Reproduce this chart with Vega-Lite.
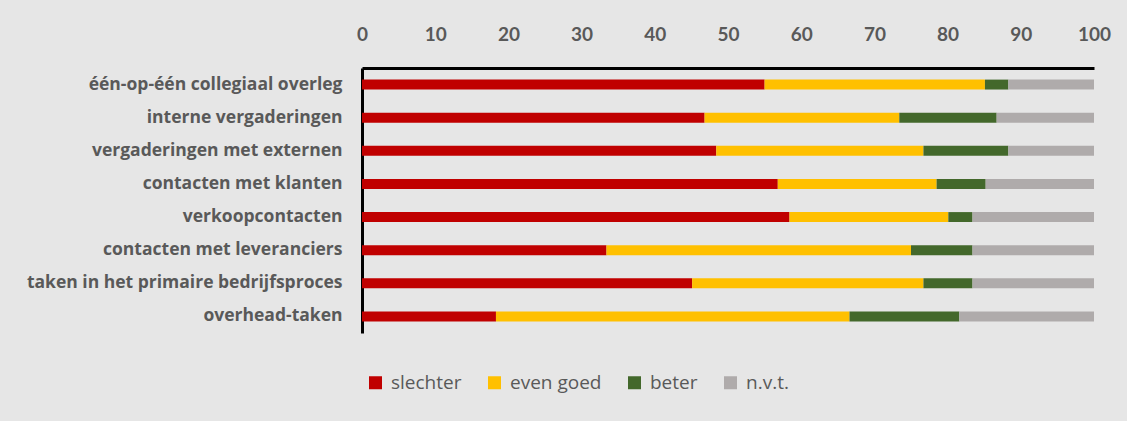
{
  "$schema": "https://vega.github.io/schema/vega-lite/v6.json",
  "width": 732,
  "height": 265,
  "autosize": {"type": "none"},
  "padding": {"left": 362, "top": 68, "right": 33, "bottom": 88},
  "background": "#E6E6E6",
  "config": {
    "view": {"stroke": null},
    "font": "Lato"
  },
  "data": {
    "values": [
      {"taak": "één-op-één collegiaal overleg", "cat": "slechter", "v": 55.0},
      {"taak": "één-op-één collegiaal overleg", "cat": "even goed", "v": 30.1},
      {"taak": "één-op-één collegiaal overleg", "cat": "beter", "v": 3.2},
      {"taak": "één-op-één collegiaal overleg", "cat": "n.v.t.", "v": 11.7},
      {"taak": "interne vergaderingen", "cat": "slechter", "v": 46.8},
      {"taak": "interne vergaderingen", "cat": "even goed", "v": 26.6},
      {"taak": "interne vergaderingen", "cat": "beter", "v": 13.3},
      {"taak": "interne vergaderingen", "cat": "n.v.t.", "v": 13.3},
      {"taak": "vergaderingen met externen", "cat": "slechter", "v": 48.4},
      {"taak": "vergaderingen met externen", "cat": "even goed", "v": 28.3},
      {"taak": "vergaderingen met externen", "cat": "beter", "v": 11.6},
      {"taak": "vergaderingen met externen", "cat": "n.v.t.", "v": 11.7},
      {"taak": "contacten met klanten", "cat": "slechter", "v": 56.8},
      {"taak": "contacten met klanten", "cat": "even goed", "v": 21.7},
      {"taak": "contacten met klanten", "cat": "beter", "v": 6.7},
      {"taak": "contacten met klanten", "cat": "n.v.t.", "v": 14.8},
      {"taak": "verkoopcontacten", "cat": "slechter", "v": 58.4},
      {"taak": "verkoopcontacten", "cat": "even goed", "v": 21.7},
      {"taak": "verkoopcontacten", "cat": "beter", "v": 3.3},
      {"taak": "verkoopcontacten", "cat": "n.v.t.", "v": 16.6},
      {"taak": "contacten met leveranciers", "cat": "slechter", "v": 33.4},
      {"taak": "contacten met leveranciers", "cat": "even goed", "v": 41.6},
      {"taak": "contacten met leveranciers", "cat": "beter", "v": 8.4},
      {"taak": "contacten met leveranciers", "cat": "n.v.t.", "v": 16.6},
      {"taak": "taken in het primaire bedrijfsproces", "cat": "slechter", "v": 45.1},
      {"taak": "taken in het primaire bedrijfsproces", "cat": "even goed", "v": 31.6},
      {"taak": "taken in het primaire bedrijfsproces", "cat": "beter", "v": 6.7},
      {"taak": "taken in het primaire bedrijfsproces", "cat": "n.v.t.", "v": 16.6},
      {"taak": "overhead-taken", "cat": "slechter", "v": 18.3},
      {"taak": "overhead-taken", "cat": "even goed", "v": 48.3},
      {"taak": "overhead-taken", "cat": "beter", "v": 15.0},
      {"taak": "overhead-taken", "cat": "n.v.t.", "v": 18.4}
    ]
  },
  "transform": [
    {"calculate": "indexof(['slechter','even goed','beter','n.v.t.'], datum.cat)", "as": "ord"}
  ],
  "mark": {"type": "bar"},
  "encoding": {
    "y": {
      "field": "taak",
      "type": "nominal",
      "sort": null,
      "title": null,
      "scale": {"paddingInner": 0.7, "paddingOuter": 0.35},
      "axis": {
        "domain": true,
        "domainColor": "#000000",
        "domainWidth": 3,
        "ticks": false,
        "labelPadding": 20,
        "labelFont": "Open Sans",
        "labelFontSize": 17.5,
        "labelFontWeight": "bold",
        "labelColor": "#595959",
        "labelLimit": 400
      }
    },
    "x": {
      "field": "v",
      "type": "quantitative",
      "stack": "zero",
      "title": null,
      "scale": {"domain": [0, 100], "nice": false},
      "axis": {
        "orient": "top",
        "values": [0, 10, 20, 30, 40, 50, 60, 70, 80, 90, 100],
        "grid": false,
        "ticks": false,
        "domain": true,
        "domainColor": "#000000",
        "domainWidth": 3,
        "labelPadding": 24,
        "labelFont": "Lato",
        "labelFontSize": 19,
        "labelFontWeight": "bold",
        "labelColor": "#595959",
        "labelFlush": false
      }
    },
    "color": {
      "field": "cat",
      "type": "nominal",
      "scale": {
        "domain": ["slechter", "even goed", "beter", "n.v.t."],
        "range": ["#C00000", "#FFC000", "#43682B", "#AFABAB"]
      },
      "legend": {
        "title": null,
        "orient": "none",
        "direction": "horizontal",
        "legendX": 4,
        "legendY": 305,
        "padding": 0,
        "symbolType": "square",
        "symbolSize": 169,
        "symbolStrokeWidth": 0,
        "symbolOpacity": 1,
        "labelFont": "Open Sans",
        "labelFontSize": 19,
        "labelColor": "#595959",
        "labelOffset": 6,
        "columnPadding": 23
      }
    },
    "order": {"field": "ord", "type": "quantitative"}
  }
}
